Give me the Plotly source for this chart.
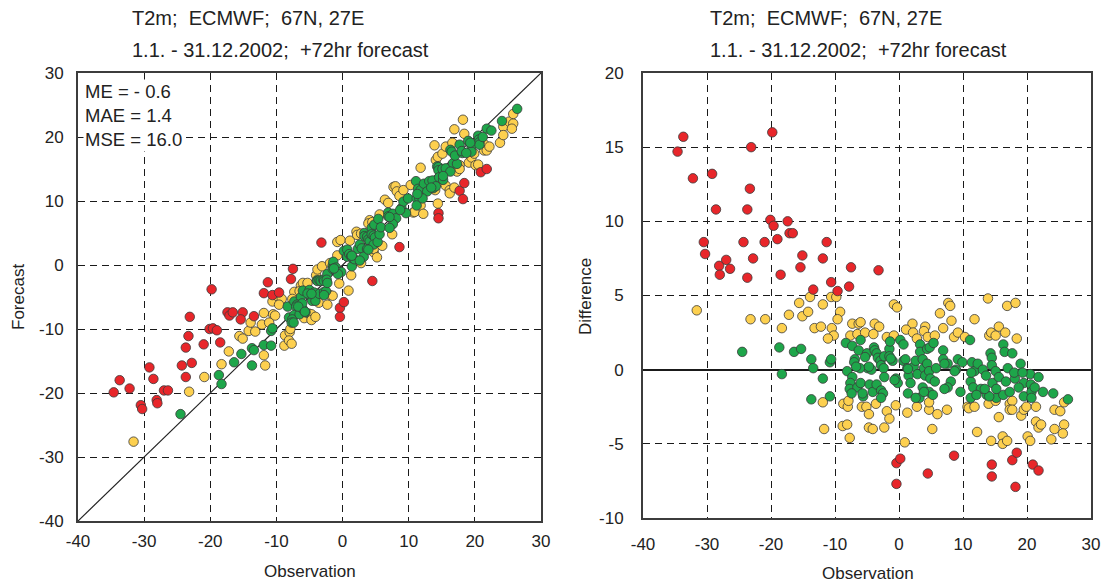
import numpy as np
import plotly.graph_objects as go

# 2 m temperature, ECMWF +72 h forecast vs. observation, 67N 27E, year 2002.
# Points are grouped by size of the forecast error (difference = forecast - observation).

red_obs = [-34.6, -33.7, -32.2, -29.2, -28.6, -30.5, -30.3, -28.1, -27.0, -26.4, -28.0,
           -23.1, -23.3, -23.7, -24.3, -22.8, -23.7, -21.0, -19.8, -20.1, -19.6, -19.0,
           -17.4, -17.1, -16.6, -18.5, -15.1, -15.4, -11.3, -11.9, -10.6, -13.4, -9.6,
           -7.8, -7.5, -3.2,
           -0.4, 0.2, -0.4, 4.5, 8.6, 14.5, 14.5, 17.7, 18.4, 18.2, 20.9, 21.8]
red_diff = [14.7, 15.7, 12.9, 13.2, 10.8, 8.6, 7.8, 7.0, 7.4, 6.8, 6.4,
            15.0, 12.2, 10.8, 8.6, 7.5, 6.2, 8.6, 16.0, 10.1, 9.7, 8.8,
            10.0, 9.2, 9.2, 6.4, 7.7, 6.9, 8.6, 7.5, 5.9, 5.4, 5.3,
            5.6, 6.9, 6.7,
            -6.3, -6.0, -7.7, -7.0, -5.8, -6.4, -7.2, -6.1, -5.6, -7.9, -6.4, -6.8]

yellow_obs = [-31.6, -23.2, -20.9, -18.3, -17.2, -15.6, -15.1, -14.2, -13.9, -11.9, -13.2,
              -12.2, -10.6, -9.8, -9.2, -9.6, -10.5, -10.2, -11.1, -7.3, -6.3, -6.0,
              -7.6, -6.5, -5.3, -4.0, -3.8, -3.1, -1.9, -0.8, -0.8, -0.3, 2.1, 1.1,
              2.2, 2.8, 4.1, 3.9, 4.5, 5.6, 6.4, 6.9, 7.7, 8.0, 8.2, 8.6, 9.2, 10.3,
              11.8, 13.9, 14.1, 14.4, 15.1, 15.6, 16.6, 16.9, 18.2, 18.4,
              -11.9, -11.7, -8.7, -8.0, -7.9, -8.8, -8.1, -7.7, -5.8, -5.1, -4.7,
              -3.6, -4.7, -4.1, -2.3, -1.9, -1.5, -0.5, 0.9, 1.3, 2.8, 4.7, 4.7,
              5.2, 6.0, 7.5, 10.7, 10.9, 11.8, 12.2, 14.0, 15.1, 15.6, 14.4, 16.2,
              16.2, 16.9, 17.3, 17.7, 17.3, 17.7, 19.1, 19.5, 19.9, 20.1, 20.5,
              21.4, 21.4, 21.8, 22.2, 23.8, 24.3, 24.3, 25.2, 25.8, 25.6, 25.8]
yellow_diff = [4.0, 3.4, 3.4, 2.8, 3.7, 4.5, 3.6, 3.9, 4.9, 4.4, 2.8,
               2.9, 4.9, 4.9, 3.9, 3.4, 2.8, 2.3, 2.1, 3.1, 3.1, 3.2,
               2.3, 2.4, 2.5, 2.4, 3.1, 2.9, 2.2, 2.3, 4.4, 4.2, 3.1, 2.7,
               2.5, 2.1, 2.9, 2.6, 2.2, 2.3, 3.8, 2.8, 4.5, 4.3, 3.3, 2.2, 2.5, 2.2,
               3.4, 4.8, 2.3, 2.5, 2.3, 2.9, 2.5, 4.3, 4.5, 2.1,
               -2.2, -4.0, -2.3, -2.5, -2.1, -3.8, -3.7, -4.6, -2.5, -2.5, -3.0,
               -2.3, -3.9, -4.0, -3.9, -2.8, -3.3, -2.4, -4.9, -2.9, -2.5, -2.7, -2.2,
               -4.0, -3.0, -2.7, -2.5, -2.6, -2.5, -4.2, -2.3, -2.1, -3.2, -4.8, -4.5,
               -5.0, -4.8, -2.3, -2.1, -2.7, -2.7, -3.1, -2.7, -2.5, -4.5, -4.8,
               -2.5, -3.5, -3.9, -3.7, -4.7, -2.7, -4.0, -2.8, -3.7, -4.3, -2.2]

green_obs = [-24.5, -18.7, -18.3, -16.4, -15.3, -13.7, -13.4, -13.7, -11.9, -10.8, -10.6,
             -10.8, -8.3, -7.3, -6.3, -6.0, -6.9, -7.0, -8.1, -7.3, -7.6, -7.7, -6.5,
             -7.4, -6.0, -5.6, -5.0, -4.9, -6.1, -4.3, -4.6, -4.1, -3.9, -3.8, -3.5,
             -3.3, -2.9, -2.8, -2.3, -2.4, -3.5, -2.8, -2.5, -2.8, -2.3, -1.5, -1.4,
             -1.5, -1.0, -0.5, -0.2, 0.2, 0.7, 0.7, 1.0, 1.4, 1.3, 1.5, 1.8, 2.3, 2.6,
             2.9, 3.3, 3.3, 3.7, 3.9, 4.1, 3.7, 4.4, 4.8, 5.4, 4.4, 4.7, 4.9, 4.7,
             5.3, 5.6, 5.8, 3.2, 6.9, 6.9, 7.6, 8.1, 7.6, 8.9, 9.2, 9.9, 9.6, 11.1,
             11.4, 11.2, 11.8, 12.3, 11.6, 11.2, 12.8, 13.1, 13.6, 14.3, 14.5, 14.5,
             14.6, 15.2, 15.1, 15.6, 16.3, 16.5, 16.7, 16.3, 17.3, 17.7, 17.0, 18.1,
             19.0, 19.5, 19.5, 20.5, 20.6, 20.7, 20.7, 21.8, 22.5, 24.1, 26.4,
             1.4, -0.7, 2.6, 7.1, 13.7, 8.7, 3.9, 12.1, 18.0, 19.3, 14.1, 15.2,
             21.2, 18.7, -5.3, -4.7, -1.3, -6.7, -5.7, 7.1, 11.3, 13.4]
green_diff = [1.2, 1.5, -0.3, 1.2, 1.4, 0.7, 0.1, -2.0, -0.6, 0.5, 0.7,
              -1.8, 1.8, 1.6, 1.3, 2.0, 0.7, 0.5, -0.1, -0.5, -0.9, -1.3, -1.2,
              -1.6, -0.9, -1.8, 1.1, 0.1, 0.1, 0.0, -1.0, -1.5, 1.5, 1.3, 1.1,
              0.8, 0.6, 0.3, 0.9, 0.1, -1.0, -1.4, -1.6, -1.9, -0.5, 1.4, 1.9,
              0.9, 0.6, -0.6, -0.9, 2.0, 1.7, 0.6, 0.7, -1.6, 0.1, -0.4, -0.9, 0.2, 0.6,
              -0.3, 1.7, 1.2, 0.7, 0.1, -0.4, -1.2, 1.4, 1.5, 1.8, 0.4, -0.1, -0.6, -1.5,
              -1.7, -0.8, 0.1, -1.9, 1.3, 0.7, 0.4, -0.8, -1.2, 0.0, 0.7, 0.5, -1.5, 2.0,
              0.5, -0.8, -0.1, 0.4, -1.2, -1.9, -1.3, 0.0, -0.4, 1.1, 0.8, 0.3,
              -0.9, -1.9, -0.1, -0.5, 1.7, 1.2, -0.8, -1.7, -1.5, 1.1, 0.1, -0.6,
              0.4, -0.9, -1.8, -0.3, -1.0, -1.5, -1.9, -0.5, -1.5, -1.6, -2.0,
              0.05, -0.7, -1.9, -1.3, -1.7, -0.1, -1.5, -1.7, -0.2, -0.2, -1.8, -1.3,
              -1.2, -1.2, 0.85, 0.2, 0.75, 0.2, -1.6, 0.4, -0.2, -1.3]

# axis ticks (labels written with a plain hyphen for negatives)
temp_ticks = [-40, -30, -20, -10, 0, 10, 20, 30]
temp_labels = ["-40", "-30", "-20", "-10", "0", "10", "20", "30"]
diff_ticks = [-10, -5, 0, 5, 10, 15, 20]
diff_labels = ["-10", "-5", "0", "5", "10", "15", "20"]

stats_lines = ["ME = - 0.6", "MAE = 1.4", "MSE = 16.0"]
title_lines = ["T2m;\u00a0 ECMWF;\u00a0 67N, 27E", "1.1. - 31.12.2002;\u00a0 +72hr forecast"]

groups = [
    (yellow_obs, yellow_diff, "#fdd04f"),
    (green_obs, green_diff, "#1ea64a"),
    (red_obs, red_diff, "#e8262a"),
]

W, H = 1109, 583
FONT = "Liberation Sans, Arial, Helvetica, sans-serif"
INK = "#222222"

fig = go.Figure()

# identity line in the forecast/observation panel
fig.add_trace(go.Scatter(x=[-40, 30], y=[-40, 30], mode="lines",
                         line=dict(color=INK, width=1.2),
                         xaxis="x", yaxis="y", showlegend=False, hoverinfo="skip"))

for obs, diff, color in groups:
    obs = np.asarray(obs)
    diff = np.asarray(diff)
    marker = dict(size=9.5, color=color, line=dict(color="#3a3a3a", width=0.8))
    fig.add_trace(go.Scatter(x=obs, y=obs + diff, mode="markers", marker=marker,
                             xaxis="x", yaxis="y", showlegend=False))
    fig.add_trace(go.Scatter(x=obs, y=diff, mode="markers", marker=marker,
                             xaxis="x2", yaxis="y2", showlegend=False))


def px_x(p):
    return p / W


def px_y(p):
    return 1 - p / H


def axis_style(standoff):
    return dict(
        showline=True, mirror=True, linecolor="#3c3c3c", linewidth=2,
        showgrid=True, gridcolor="#1a1a1a", gridwidth=1.1, griddash="7px,5px",
        ticks="", tickfont=dict(family=FONT, size=17, color=INK),
        ticklabelstandoff=standoff, automargin=False, tickmode="array",
    )


fig.update_layout(
    width=W, height=H,
    margin=dict(l=0, r=0, t=0, b=0),
    paper_bgcolor="white", plot_bgcolor="white",
    font=dict(family=FONT, color=INK),
    xaxis=dict(domain=[px_x(78), px_x(541)], range=[-40, 30],
               tickvals=temp_ticks, ticktext=temp_labels,
               zeroline=False, anchor="y", **axis_style(4)),
    yaxis=dict(domain=[px_y(521), px_y(73)], range=[-40, 30],
               tickvals=temp_ticks, ticktext=temp_labels,
               zeroline=False, anchor="x", **axis_style(9)),
    xaxis2=dict(domain=[px_x(643), px_x(1091)], range=[-40, 30],
                tickvals=temp_ticks, ticktext=temp_labels,
                zeroline=False, anchor="y2", **axis_style(10)),
    yaxis2=dict(domain=[px_y(518), px_y(73)], range=[-10, 20],
                tickvals=diff_ticks, ticktext=diff_labels,
                zeroline=True, zerolinecolor="#1a1a1a", zerolinewidth=2,
                anchor="x2", **axis_style(14)),
)

annotations = []
# two-line titles above each panel
for x0 in (130, 708):
    for i, line in enumerate(title_lines):
        annotations.append(dict(
            x=px_x(x0), y=px_y(18 + 32 * i), xref="paper", yref="paper",
            xanchor="left", yanchor="middle", showarrow=False, text=line,
            font=dict(family=FONT, size=20, color=INK)))

# error statistics box
annotations.append(dict(
    x=px_x(83), y=px_y(79), xref="paper", yref="paper",
    xanchor="left", yanchor="top", showarrow=False, align="left",
    text="<br>".join(stats_lines), bgcolor="white", borderpad=1,
    font=dict(family=FONT, size=18.5, color=INK)))

# axis titles
axis_titles = [
    (310, 571, 0, "Observation"),
    (868, 573, 0, "Observation"),
    (18, 297, -90, "Forecast"),
    (585, 297, -90, "Difference"),
]
for x0, y0, angle, text in axis_titles:
    annotations.append(dict(
        x=px_x(x0), y=px_y(y0), xref="paper", yref="paper",
        xanchor="center", yanchor="middle", showarrow=False, textangle=angle,
        text=text, font=dict(family=FONT, size=17, color=INK)))

fig.update_layout(annotations=annotations)

fig.write_html("out.html")
